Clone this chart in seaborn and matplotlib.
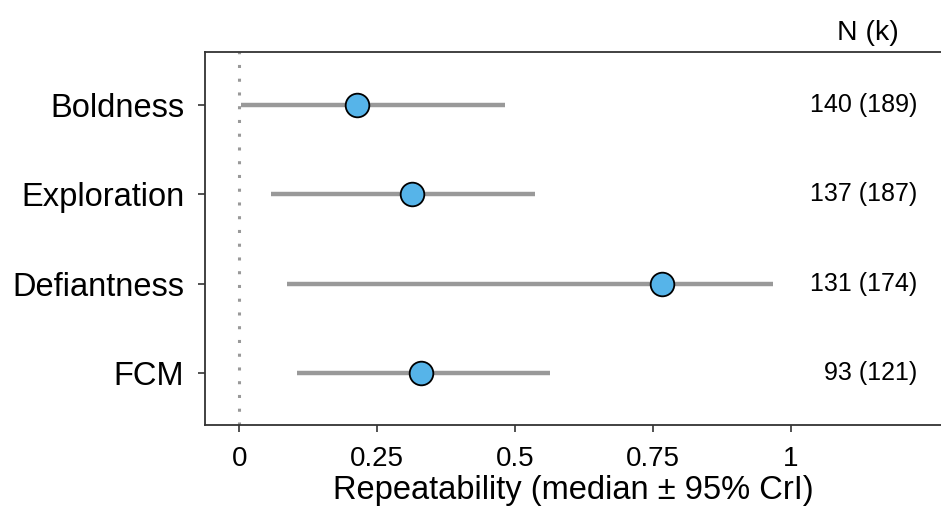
import matplotlib
matplotlib.use("Agg")
import matplotlib.pyplot as plt
import seaborn as sns
import pandas as pd

traits = ["Boldness", "Exploration", "Defiantness", "FCM"]
median = [0.214, 0.314, 0.766, 0.330]
lower = [0.003, 0.058, 0.087, 0.105]
upper = [0.481, 0.537, 0.967, 0.564]
n_labels = ["140 (189)", "137 (187)", "131 (174)", "93 (121)"]
xticks = [0, 0.25, 0.5, 0.75, 1]
xticklabels = ["0", "0.25", "0.5", "0.75", "1"]

df = pd.DataFrame({"trait": traits, "median": median, "lower": lower, "upper": upper})

sns.set_style("white")
plt.rcParams["font.family"] = ["Liberation Sans", "DejaVu Sans"]
plt.rcParams["text.color"] = "black"
plt.rcParams["xtick.color"] = "black"
plt.rcParams["ytick.color"] = "black"
plt.rcParams["axes.labelcolor"] = "black"

fig = plt.figure(figsize=(9.41, 5.14), dpi=100)
ax = fig.add_axes([205 / 941, 1 - 425 / 514, 736 / 941, 373 / 514])

ax.axvline(0, color="#999999", linestyle=(0, (1, 3.5)), linewidth=2.2, zorder=1)
ax.hlines(y=df["trait"], xmin=df["lower"], xmax=df["upper"], color="#999999", linewidth=3.2, zorder=2)
sns.scatterplot(data=df, x="median", y="trait", ax=ax, s=290, color="#56B4E9",
                edgecolor="black", linewidth=1.3, zorder=3)

for i, lab in enumerate(n_labels):
    ax.text(1.229, traits[i], lab, ha="right", va="center", fontsize=18, color="black")
ax.text(1.14, 1.052, "N (k)", transform=ax.get_xaxis_transform(), ha="center", va="center",
        fontsize=20.5, color="black")

ax.set_xlim(-0.062, 1.272)
ax.set_ylim(3.58, -0.59)
ax.set_xticks(xticks)
ax.set_xticklabels(xticklabels)
ax.set_xlabel("Repeatability (median ± 95% CrI)", fontsize=23.5, labelpad=2, color="black")
ax.set_ylabel("")
ax.tick_params(axis="x", labelsize=20, length=5, width=1.2, color="#333333", labelcolor="black",
               direction="out", pad=10, bottom=True)
ax.tick_params(axis="y", labelsize=23.5, length=5, width=1.2, color="#333333", labelcolor="black",
               direction="out", pad=10, left=True)
for side in ["left", "bottom", "top"]:
    ax.spines[side].set_color("#333333")
    ax.spines[side].set_linewidth(1.3)
ax.spines["right"].set_visible(False)

fig.savefig("out.png", dpi=100)
